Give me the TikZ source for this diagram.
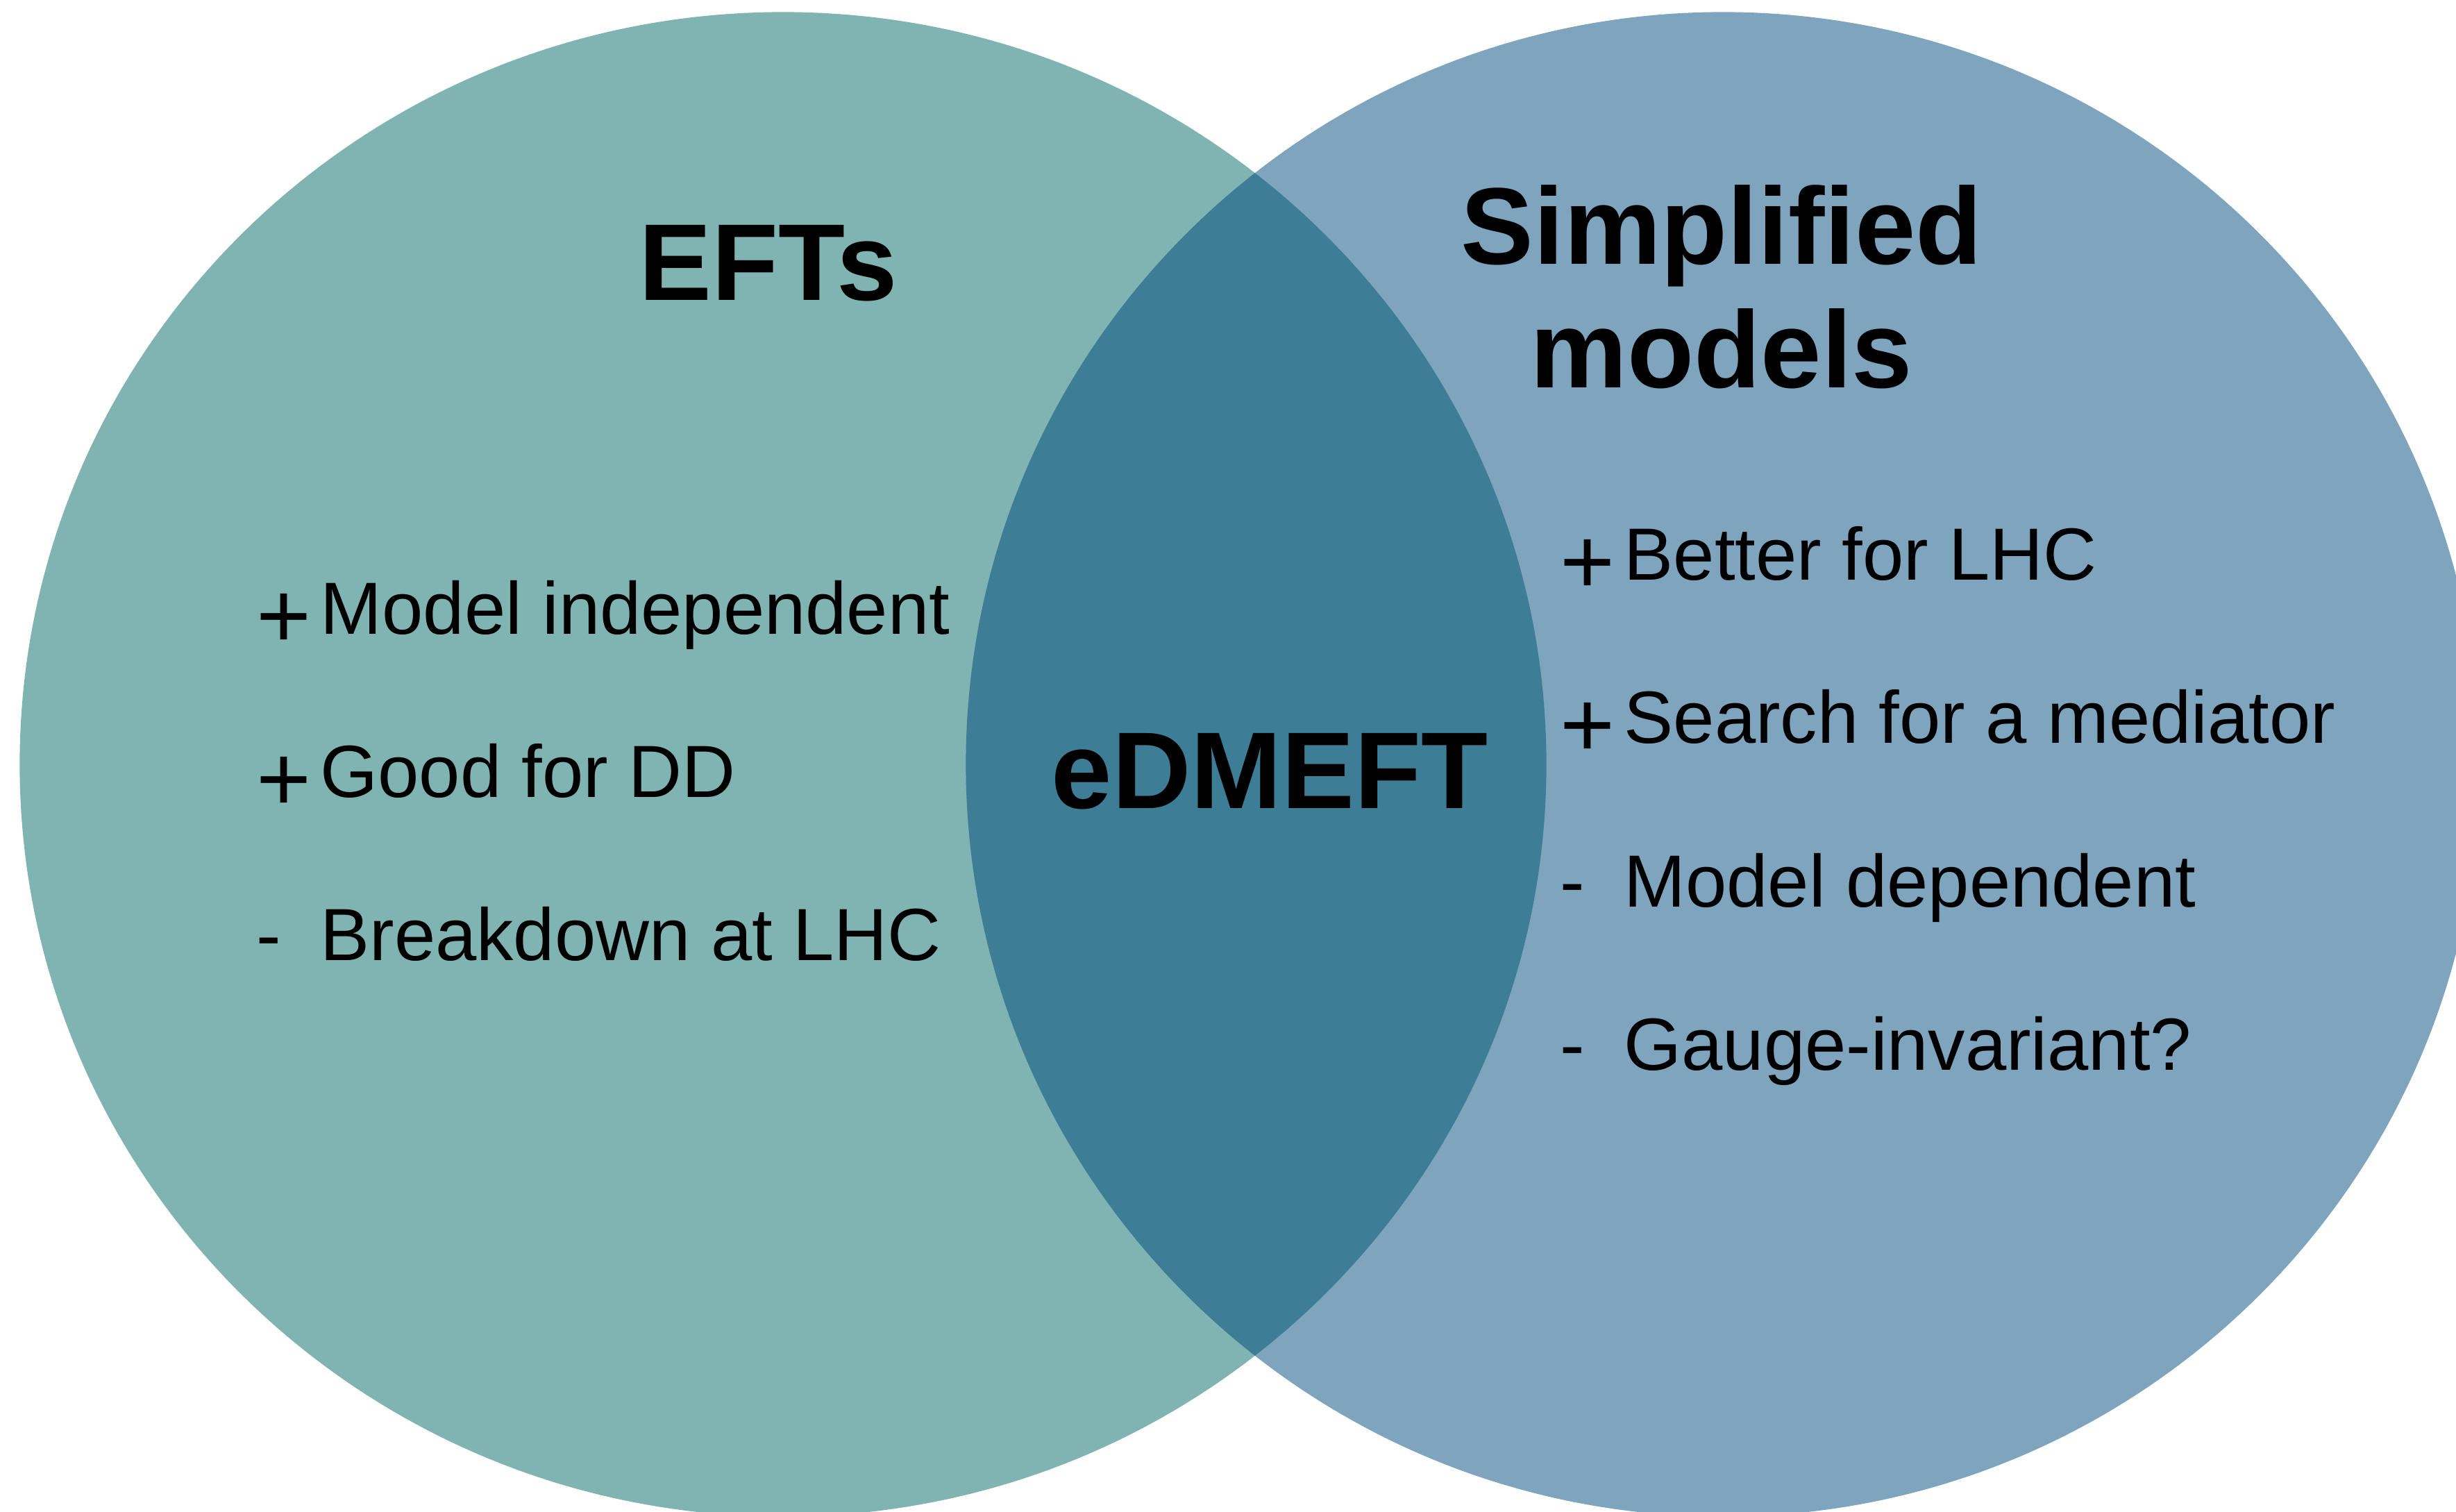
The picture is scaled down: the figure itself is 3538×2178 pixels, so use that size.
\documentclass[tikz,border=0pt]{standalone}
\usepackage{fontspec}
\setmainfont{Liberation Sans}
\usetikzlibrary{positioning}
\definecolor{eftgreen}{RGB}{128,180,178}
\definecolor{simpblue}{RGB}{127,164,190}
\definecolor{overlapblue}{RGB}{61,126,150}
\newcommand{\lead}[1]{\makebox[0.92cm][l]{#1}}
\newcommand{\bigplus}{\raisebox{-0.2cm}{\scalebox{1.27}{+}}}

\begin{document}
\begin{tikzpicture}[x=0.01cm, y=-0.01cm,
    title/.style={font=\fontsize{44.7}{50.6}\selectfont\bfseries, align=center, inner sep=0pt, anchor=base},
    item/.style={font=\fontsize{30.3}{36}\selectfont, inner sep=0pt, anchor=base west}
]
\useasboundingbox (0,0) rectangle (3538,2178);
\clip (0,0) rectangle (3538,2178);
% the two sets
\fill[eftgreen] (1128,1101) ellipse [x radius=10.99cm, y radius=10.83cm];
\fill[simpblue] (2482,1101) ellipse [x radius=10.90cm, y radius=10.83cm];
% overlap
\begin{scope}
  \clip (1128,1101) ellipse [x radius=10.99cm, y radius=10.83cm];
  \fill[overlapblue] (2482,1101) ellipse [x radius=10.90cm, y radius=10.83cm];
\end{scope}

\node[title] (efts) at (1107,432) {EFTs};
\node[title] (simp) at (2480,558) {Simplified\\models};
\node[title] (edmeft) at (1829,1164) {eDMEFT};

% EFT side
\node[item] (eft1) at (369,913) {\lead{\bigplus}Model independent};
\node[item] (eft2) at (369,1148) {\lead{\bigplus}Good for DD};
\node[item] (eft3) at (369,1383) {\lead{-}Breakdown at LHC};

% simplified model side
\node[item] (sm1) at (2247,835) {\lead{\bigplus}Better for LHC};
\node[item] (sm2) at (2247,1070) {\lead{\bigplus}Search for a mediator};
\node[item] (sm3) at (2247,1306) {\lead{-}Model dependent};
\node[item] (sm4) at (2247,1541) {\lead{-}Gauge-invariant?};
\end{tikzpicture}
\end{document}
